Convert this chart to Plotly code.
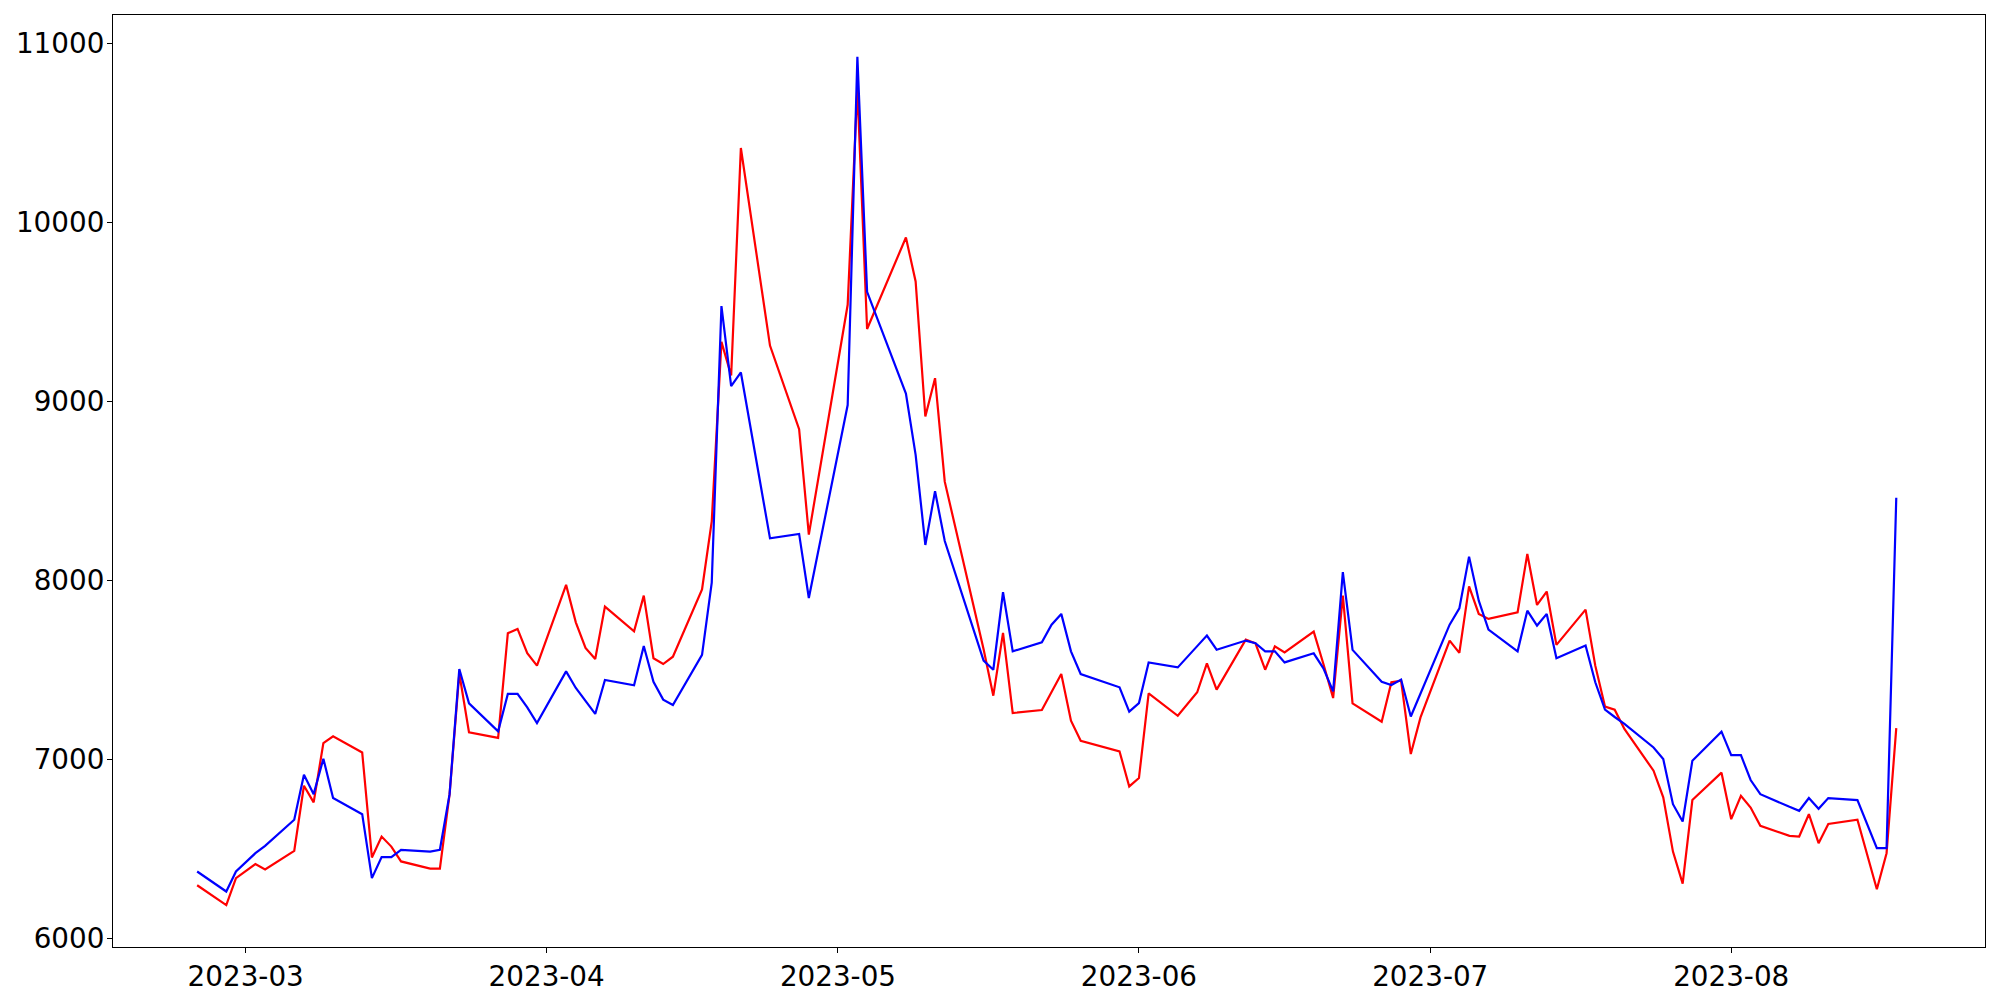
import plotly.graph_objects as go

dates = [
    "2023-02-24", "2023-02-27", "2023-02-28", "2023-03-02", "2023-03-03",
    "2023-03-06", "2023-03-07", "2023-03-08", "2023-03-09", "2023-03-10",
    "2023-03-13", "2023-03-14", "2023-03-15", "2023-03-16", "2023-03-17",
    "2023-03-20", "2023-03-21", "2023-03-22", "2023-03-23", "2023-03-24",
    "2023-03-27", "2023-03-28", "2023-03-29", "2023-03-30", "2023-03-31",
    "2023-04-03", "2023-04-04", "2023-04-05", "2023-04-06", "2023-04-07",
    "2023-04-10", "2023-04-11", "2023-04-12", "2023-04-13", "2023-04-14",
    "2023-04-17", "2023-04-18", "2023-04-19", "2023-04-20", "2023-04-21",
    "2023-04-24", "2023-04-27", "2023-04-28",
    "2023-05-02", "2023-05-03", "2023-05-04",
    "2023-05-08", "2023-05-09", "2023-05-10", "2023-05-11", "2023-05-12",
    "2023-05-16", "2023-05-17", "2023-05-18", "2023-05-19",
    "2023-05-22", "2023-05-23", "2023-05-24", "2023-05-25", "2023-05-26",
    "2023-05-30", "2023-05-31", "2023-06-01", "2023-06-02",
    "2023-06-05", "2023-06-07", "2023-06-08", "2023-06-09",
    "2023-06-12", "2023-06-13", "2023-06-14", "2023-06-15", "2023-06-16",
    "2023-06-19", "2023-06-20", "2023-06-21", "2023-06-22", "2023-06-23",
    "2023-06-26", "2023-06-27", "2023-06-28", "2023-06-29", "2023-06-30",
    "2023-07-03", "2023-07-04", "2023-07-05", "2023-07-06", "2023-07-07",
    "2023-07-10", "2023-07-11", "2023-07-12", "2023-07-13", "2023-07-14",
    "2023-07-17", "2023-07-18", "2023-07-19", "2023-07-20", "2023-07-21",
    "2023-07-24", "2023-07-25", "2023-07-26", "2023-07-27", "2023-07-28",
    "2023-07-31", "2023-08-01", "2023-08-02", "2023-08-03", "2023-08-04",
    "2023-08-07", "2023-08-08", "2023-08-09", "2023-08-10", "2023-08-11",
    "2023-08-14", "2023-08-16", "2023-08-17", "2023-08-18",
]

red_values = [
    6297, 6186, 6337, 6415, 6385,
    6489, 6853, 6760, 7091, 7129,
    7039, 6452, 6569, 6513, 6430,
    6390, 6390, 6806, 7480, 7151,
    7120, 7705, 7729, 7593, 7524,
    7975, 7766, 7623, 7561, 7854,
    7716, 7915, 7565, 7533, 7574,
    7950, 8330, 9333, 9145, 10416,
    9312, 8845, 8256,
    9540, 10750, 9405,
    9916, 9670, 8916, 9130, 8552,
    7615, 7356, 7707, 7259,
    7276, 7377, 7477, 7216, 7104,
    7045, 6849, 6896, 7369,
    7244, 7375, 7537, 7390,
    7669, 7649, 7501, 7632, 7598,
    7714, 7533, 7343, 7915, 7313,
    7211, 7431, 7440, 7030, 7235,
    7664, 7595, 7967, 7813, 7785,
    7822, 8148, 7863, 7938, 7640,
    7837, 7524, 7295, 7278, 7170,
    6937, 6788, 6485, 6306, 6773,
    6926, 6666, 6797, 6731, 6629,
    6573, 6569, 6694, 6532, 6639,
    6663, 6275, 6476, 7175,
]

blue_values = [
    6374, 6262, 6374, 6476, 6517,
    6663, 6914, 6806, 7004, 6784,
    6694, 6337, 6454, 6454, 6495,
    6485, 6495, 6806, 7505, 7313,
    7157, 7366, 7366, 7291, 7203,
    7492, 7399, 7328, 7254, 7444,
    7414, 7634, 7434, 7334, 7304,
    7584, 7988, 9533, 9085, 9162,
    8235, 8260, 7902,
    8980, 10925, 9612,
    9044, 8702, 8198, 8498, 8220,
    7552, 7501, 7934, 7604,
    7654, 7753, 7813, 7604, 7477,
    7403, 7267, 7315, 7542,
    7514, 7633, 7692, 7613,
    7664, 7649, 7604, 7604, 7542,
    7593, 7509, 7380, 8046, 7612,
    7434, 7416, 7446, 7240, 7370,
    7753, 7844, 8133, 7887, 7725,
    7604, 7831, 7748, 7813, 7565,
    7636, 7431, 7278, 7237, 7198,
    7067, 7002, 6750, 6653, 6993,
    7155, 7024, 7024, 6885, 6806,
    6735, 6713, 6784, 6724, 6784,
    6773, 6504, 6504, 8462,
]

x_tick_vals = ["2023-03-01", "2023-04-01", "2023-05-01", "2023-06-01", "2023-07-01", "2023-08-01"]
x_tick_text = ["2023-03", "2023-04", "2023-05", "2023-06", "2023-07", "2023-08"]
y_tick_vals = [6000, 7000, 8000, 9000, 10000, 11000]
y_tick_text = ["6000", "7000", "8000", "9000", "10000", "11000"]

fig = go.Figure()
fig.add_trace(go.Scatter(x=dates, y=red_values, mode="lines",
                         line=dict(color="#ff0000", width=2.2), showlegend=False))
fig.add_trace(go.Scatter(x=dates, y=blue_values, mode="lines",
                         line=dict(color="#0000ff", width=2.2), showlegend=False))

axis_common = dict(
    showgrid=False, zeroline=False, automargin=False,
    showline=True, linecolor="black", linewidth=1.1, mirror=True,
    ticks="outside", ticklen=5, tickwidth=1.1, tickcolor="black",
    tickfont=dict(family="DejaVu Sans", size=27.8, color="black"),
)

fig.update_layout(
    width=2000, height=1000,
    margin=dict(l=113, r=15, t=15, b=53, pad=0, autoexpand=False),
    paper_bgcolor="white", plot_bgcolor="white",
    xaxis=dict(type="date", range=["2023-02-15 08:00", "2023-08-27 03:20"],
               tickvals=x_tick_vals, ticktext=x_tick_text, **axis_common),
    yaxis=dict(range=[5952, 11159], tickvals=y_tick_vals, ticktext=y_tick_text,
               ticklabelstandoff=-3, **axis_common),
)

fig.write_html("out.html", config={"displayModeBar": False},
               post_script="document.body.style.margin='0';")
